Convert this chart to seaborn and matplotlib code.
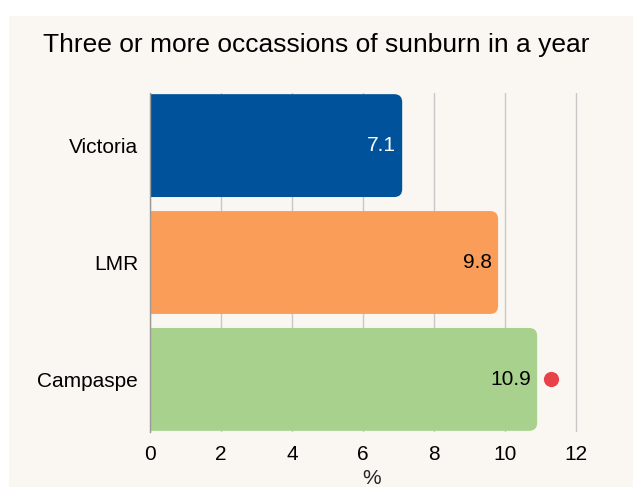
import matplotlib
matplotlib.use("Agg")
import matplotlib.pyplot as plt
import seaborn as sns
import pandas as pd
from matplotlib.patches import FancyBboxPatch, Rectangle

# dados
regioes = ["Victoria", "LMR", "Campaspe"]
valores = [7.1, 9.8, 10.9]
cores = ["#00539b", "#f99d59", "#a9d18e"]
cores_texto = ["white", "black", "black"]
marcador = [None, None, 11.3]
ticks_x = [0, 2, 4, 6, 8, 10, 12]

fundo = "#faf7f2"

sns.set_style("white")
plt.rcParams["font.family"] = ["Liberation Sans", "DejaVu Sans"]

fig = plt.figure(figsize=(6.33, 4.87), dpi=100)
fig.patch.set_facecolor("white")
fig.patches.append(Rectangle((9 / 633, 0), 1, 1 - 16 / 487, transform=fig.transFigure,
                             facecolor=fundo, edgecolor="none", zorder=-10))

ax = fig.add_axes([150 / 633, 55 / 487, 444 / 633, 339 / 487])
ax.set_facecolor("none")

df = pd.DataFrame({"regiao": regioes, "valor": valores})
sns.barplot(data=df, x="valor", y="regiao", hue="regiao", palette=cores,
            orient="h", width=0.88, legend=False, ax=ax, saturation=1)

# cantos arredondados a direita
r = 0.225
aspecto = 0.303
for p in list(ax.patches):
    x0, y0 = p.get_x(), p.get_y()
    w, h = p.get_width(), p.get_height()
    cor = p.get_facecolor()
    p.remove()
    ax.add_patch(FancyBboxPatch((x0 - r, y0), w + r, h,
                                boxstyle=f"round,pad=0,rounding_size={r}",
                                mutation_aspect=aspecto, facecolor=cor,
                                edgecolor="none", zorder=2))

for i, (v, c) in enumerate(zip(valores, cores_texto)):
    ax.annotate(f"{v}", (v, i), xytext=(-4.5, 0), textcoords="offset points",
                ha="right", va="center", color=c, fontsize=15, zorder=3)

for i, m in enumerate(marcador):
    if m is not None:
        ax.scatter([m], [i], s=120, color="#e8414a", zorder=3, linewidths=0)

ax.set_xlim(0, 12.5)
ax.set_ylim(2.45, -0.45)
ax.set_xticks(ticks_x)
ax.set_xticklabels([str(t) for t in ticks_x])
ax.grid(axis="x", color="#c8c8c8", linewidth=1)
ax.set_axisbelow(True)
for s in ["top", "right", "bottom"]:
    ax.spines[s].set_visible(False)
ax.spines["left"].set_color("#999999")
ax.spines["left"].set_linewidth(1)
ax.tick_params(axis="both", length=0, labelsize=15, colors="black")
ax.tick_params(axis="x", pad=9)
ax.tick_params(axis="y", pad=8.5)
ax.set_ylabel("")
ax.set_xlabel("%", fontsize=15, labelpad=4)

fig.text(0.5, 1 - 52 / 487, "Three or more occassions of sunburn in a year",
         ha="center", va="baseline", fontsize=19, color="black")

fig.savefig("out.png", dpi=100, facecolor=fig.get_facecolor())
